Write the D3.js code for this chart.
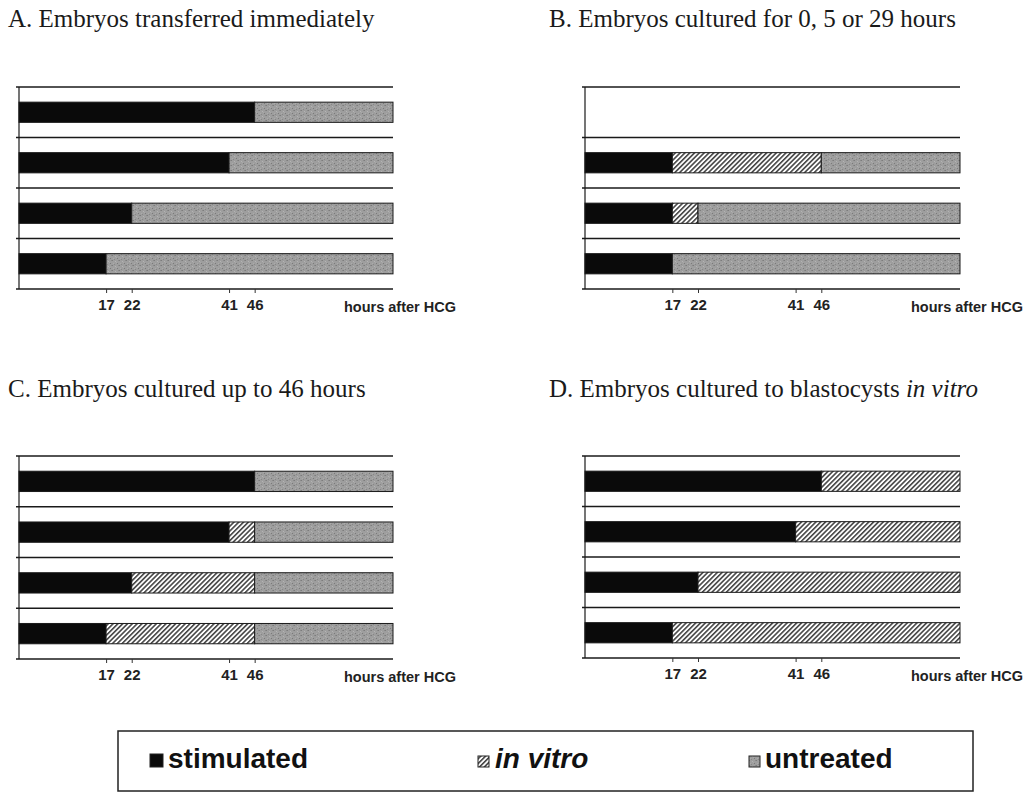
<!DOCTYPE html>
<html>
<head>
<meta charset="utf-8">
<script src="https://cdn.jsdelivr.net/npm/d3@7"></script>
<style>
  html, body { margin: 0; padding: 0; background: #fff; }
  svg { display: block; }
</style>
</head>
<body>
<svg id="chart" width="1026" height="794"></svg>
<script>
// ---------- data ----------
const panelIds = ["A", "B", "C", "D"];
const panelTitles = [
  "A. Embryos transferred immediately",
  "B. Embryos cultured for 0, 5 or 29 hours",
  "C. Embryos cultured up to 46 hours",
  "D. Embryos cultured to blastocysts "
];
const rowIds = ["r1", "r2", "r3", "r4"];
const tickHours = [17, 22, 41, 46];
const axisLabel = "hours after HCG";
const endHour = 73;
// hour at which the stimulated phase ends, per row (top to bottom)
const stimulatedA = [46, 41, 22, 17];
const stimulatedB = [null, 17, 17, 17];
const stimulatedC = [46, 41, 22, 17];
const stimulatedD = [46, 41, 22, 17];
// hour at which the in vitro phase ends (untreated afterwards until endHour)
const inVitroEndA = [46, 41, 22, 17];
const inVitroEndB = [null, 46, 22, 17];
const inVitroEndC = [46, 46, 46, 46];
const inVitroEndD = [73, 73, 73, 73];
const legendLabels = ["stimulated", "in vitro", "untreated"];

const stimulated = [stimulatedA, stimulatedB, stimulatedC, stimulatedD];
const inVitroEnd = [inVitroEndA, inVitroEndB, inVitroEndC, inVitroEndD];

// ---------- layout ----------
const layout = [
  { x0: 19,  x1: 393, y0: 87,  y1: 289, tx: 8,   ty: 27 },
  { x0: 585, x1: 960, y0: 87,  y1: 289, tx: 549, ty: 27 },
  { x0: 19,  x1: 393, y0: 456, y1: 659, tx: 8,   ty: 397 },
  { x0: 585, x1: 960, y0: 456, y1: 658, tx: 549, ty: 397 }
];

const svg = d3.select("#chart");
const defs = svg.append("defs");

// hatch pattern for in vitro
const hatch = defs.append("pattern")
  .attr("id", "hatch").attr("patternUnits", "userSpaceOnUse")
  .attr("width", 3.4).attr("height", 3.4)
  .attr("patternTransform", "rotate(45)");
hatch.append("rect").attr("width", 3.4).attr("height", 3.4).attr("fill", "#fff");
hatch.append("line").attr("x1", 0.8).attr("y1", 0).attr("x2", 0.8).attr("y2", 3.4)
  .attr("stroke", "#2a2a2a").attr("stroke-width", 1.4);

// speckled gray pattern for untreated (fixed texture)
const speck = defs.append("pattern")
  .attr("id", "speck").attr("patternUnits", "userSpaceOnUse")
  .attr("width", 7).attr("height", 5);
speck.append("rect").attr("width", 7).attr("height", 5).attr("fill", "#9e9e9e");
[[0,0,"#7c7c7c"],[3,1,"#b4b4b4"],[5,3,"#7a7a7a"],[1,3,"#ababab"],[6,0,"#8a8a8a"],[2,4,"#878787"],[4,2,"#a9a9a9"]]
  .forEach(([x, y, c]) => speck.append("rect").attr("x", x).attr("y", y)
    .attr("width", 1).attr("height", 1).attr("fill", c));

const fills = { stimulated: "#0a0a0a", invitro: "url(#hatch)", untreated: "url(#speck)" };

panelIds.forEach((pid, pi) => {
  const L = layout[pi];
  const g = svg.append("g").attr("class", "panel-" + pid);

  const x = d3.scaleLinear().domain([0, endHour]).range([L.x0, L.x1]);
  const rowBand = d3.scaleBand().domain(rowIds).range([L.y0, L.y1]).padding(0);
  const barBand = d3.scaleBand().domain(rowIds).range([L.y0, L.y1])
    .paddingInner(0.6).paddingOuter(0.3);

  // title
  const t = g.append("text").attr("x", L.tx).attr("y", L.ty)
    .attr("font-family", "'Liberation Serif', 'Times New Roman', serif")
    .attr("font-size", 25).attr("fill", "#1a1a1a")
    .text(panelTitles[pi]);
  if (pid === "D") t.append("tspan").attr("font-style", "italic").text("in vitro");

  // horizontal grid lines at row boundaries
  const bounds = rowIds.map(r => rowBand(r)).concat([L.y1]);
  g.selectAll("line.grid").data(bounds).join("line")
    .attr("class", "grid")
    .attr("x1", L.x0 - 3).attr("x2", L.x1)
    .attr("y1", d => d).attr("y2", d => d)
    .attr("stroke", "#1a1a1a").attr("stroke-width", 1.4);

  // vertical axis
  g.append("line").attr("x1", L.x0).attr("x2", L.x0)
    .attr("y1", L.y0).attr("y2", L.y1)
    .attr("stroke", "#1a1a1a").attr("stroke-width", 1.2);

  // bars
  rowIds.forEach((r, ri) => {
    const s = stimulated[pi][ri];
    const v = inVitroEnd[pi][ri];
    if (s === null) return;
    const segs = [
      { a: 0, b: s, k: "stimulated" },
      { a: s, b: v, k: "invitro" },
      { a: v, b: endHour, k: "untreated" }
    ].filter(d => d.b > d.a);
    g.selectAll(null).data(segs).join("rect")
      .attr("x", d => x(d.a)).attr("width", d => x(d.b) - x(d.a))
      .attr("y", barBand(r)).attr("height", barBand.bandwidth())
      .attr("fill", d => fills[d.k])
      .attr("stroke", "#1a1a1a").attr("stroke-width", 1);
  });

  // bottom ticks and labels
  const axis = d3.axisBottom(x).tickValues(tickHours).tickSize(4).tickPadding(6);
  const ag = g.append("g").attr("transform", `translate(0,${L.y1})`).call(axis);
  ag.select(".domain").remove();
  ag.selectAll(".tick line").attr("stroke", "#333").attr("stroke-width", 1);
  ag.selectAll(".tick text")
    .attr("font-family", "'Liberation Sans', Arial, sans-serif")
    .attr("font-weight", "bold").attr("font-size", 15).attr("fill", "#222");

  g.append("text").attr("x", L.x1 + 63).attr("y", L.y1 + 23)
    .attr("text-anchor", "end")
    .attr("font-family", "'Liberation Sans', Arial, sans-serif")
    .attr("font-weight", "bold").attr("font-size", 14.5).attr("fill", "#222")
    .text(axisLabel);
});

// ---------- legend ----------
const lg = svg.append("g").attr("class", "legend");
lg.append("rect").attr("x", 118).attr("y", 731).attr("width", 855).attr("height", 60)
  .attr("fill", "#fff").attr("stroke", "#222").attr("stroke-width", 1.5);

const legendItems = [
  { label: legendLabels[0], fill: fills.stimulated, mx: 150, ms: 13, tx: 168, italic: false },
  { label: legendLabels[1], fill: fills.invitro, mx: 478, ms: 11, tx: 495, italic: true },
  { label: legendLabels[2], fill: fills.untreated, mx: 749, ms: 11, tx: 765, italic: false }
];
legendItems.forEach(it => {
  lg.append("rect").attr("x", it.mx).attr("y", 767 - it.ms).attr("width", it.ms).attr("height", it.ms)
    .attr("fill", it.fill).attr("stroke", "#222").attr("stroke-width", 1);
  lg.append("text").attr("x", it.tx).attr("y", 768)
    .attr("font-family", "'Liberation Sans', Arial, sans-serif")
    .attr("font-weight", "bold").attr("font-size", 28)
    .attr("font-style", it.italic ? "italic" : "normal")
    .attr("fill", "#111").text(it.label);
});
</script>
</body>
</html>
